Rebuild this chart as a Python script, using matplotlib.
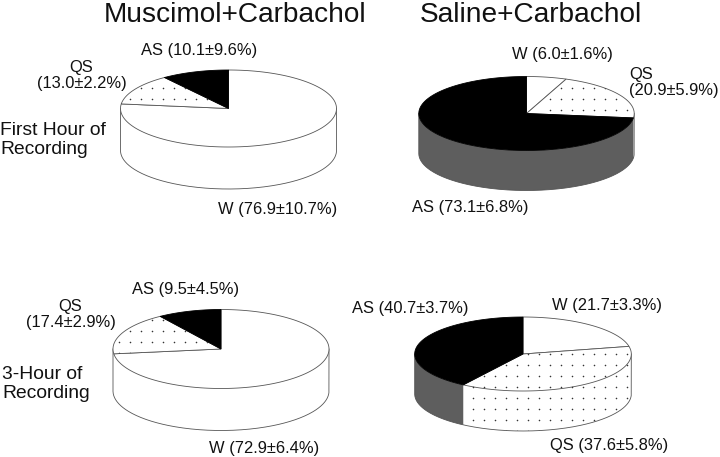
import numpy as np
import matplotlib
matplotlib.use("Agg")
import matplotlib.pyplot as plt

plt.rcParams['font.family'] = ['Liberation Sans', 'DejaVu Sans']

# Data: shares of recording time, clockwise from 12 o'clock (W, QS, AS)
stages = ['W', 'QS', 'AS']
mus_first_values = [76.9, 13.0, 10.1]
sal_first_values = [6.0, 20.9, 73.1]
mus_three_values = [72.9, 17.4, 9.5]
sal_three_values = [21.7, 37.6, 40.7]

titles = ['Muscimol+Carbachol', 'Saline+Carbachol']
row_labels = ['First Hour of\nRecording', '3-Hour of\nRecording']

mus_first_labels = ['W (76.9±10.7%)', 'QS\n(13.0±2.2%)', 'AS (10.1±9.6%)']
sal_first_labels = ['W (6.0±1.6%)', 'QS\n(20.9±5.9%)', 'AS (73.1±6.8%)']
mus_three_labels = ['W (72.9±6.4%)', 'QS\n(17.4±2.9%)', 'AS (9.5±4.5%)']
sal_three_labels = ['W (21.7±3.3%)', 'QS (37.6±5.8%)', 'AS (40.7±3.7%)']

W, H = 720, 457
fig = plt.figure(figsize=(W / 100, H / 100), dpi=100, facecolor='white')
ax = fig.add_axes([0, 0, 1, 1])
ax.set_xlim(0, W)
ax.set_ylim(H, 0)
ax.axis('off')

LINE = '#555555'
LW = 0.6
TEXT = '#111111'
TOP_FILL = {'W': 'white', 'QS': 'white', 'AS': 'black'}
WALL_FILL = {'W': 'white', 'QS': 'white', 'AS': '#5e5e5e'}
GRID = 11.0


def draw_dots(patch, x0, x1, y0, y1, gx, gy):
    xs = np.arange(gx, x1 + GRID, GRID)
    xs = xs[xs >= x0]
    ys = np.arange(gy, y1 + GRID, GRID)
    ys = ys[ys >= y0]
    xx, yy = np.meshgrid(xs, ys)
    dots = ax.scatter(xx.ravel(), yy.ravel(), s=1.3, c='#333333', linewidths=0, zorder=5)
    dots.set_clip_path(patch)


def draw_pie(values, cx, cy, rx, ry, depth, gx, gy):
    ends = np.cumsum(values) / np.sum(values) * 2 * np.pi
    starts = np.concatenate([[0], ends[:-1]])
    # side wall: only the front half of the rim (90deg..270deg clockwise from top)
    wall_a, wall_b = np.pi / 2, 3 * np.pi / 2
    for st, a, b in zip(stages, starts, ends):
        lo, hi = max(a, wall_a), min(b, wall_b)
        if lo >= hi:
            continue
        t = np.linspace(lo, hi, 120)
        x = cx + rx * np.sin(t)
        y = cy - ry * np.cos(t)
        px = np.concatenate([x, x[::-1]])
        py = np.concatenate([y, y[::-1] + depth])
        patch = ax.fill(px, py, facecolor=WALL_FILL[st], edgecolor='none', zorder=2)[0]
        if st == 'QS':
            draw_dots(patch, px.min(), px.max(), py.min(), py.max(), gx, gy)
    # one outline round the wall: down the right side, along the bottom, up the left side
    t = np.linspace(wall_a, wall_b, 240)
    ox = np.concatenate([cx + rx * np.sin(t)[:1], cx + rx * np.sin(t), cx + rx * np.sin(t)[-1:]])
    oy = np.concatenate([[cy], cy - ry * np.cos(t) + depth, [cy]])
    ax.plot(ox, oy, color=LINE, linewidth=LW, zorder=2.5)
    # top face
    for st, a, b in zip(stages, starts, ends):
        t = np.linspace(a, b, 200)
        px = np.concatenate([[cx], cx + rx * np.sin(t)])
        py = np.concatenate([[cy], cy - ry * np.cos(t)])
        patch = ax.fill(px, py, facecolor=TOP_FILL[st], edgecolor=LINE if st != 'AS' else 'black',
                        linewidth=LW, zorder=3)[0]
        if st == 'QS':
            draw_dots(patch, px.min(), px.max(), py.min(), py.max(), gx, gy)


draw_pie(mus_first_values, 228.5, 108.5, 108, 38.5, 42, 130, 88)
draw_pie(sal_first_values, 526.5, 113.5, 107.7, 37, 40, 550, 88)
draw_pie(mus_three_values, 221, 349, 108, 39.5, 42, 119, 320)
draw_pie(sal_three_values, 523, 354, 108.3, 37, 40, 473, 353.5)

FS = 11.9


def label(x, y, s, ha='center'):
    ax.text(x, y, s, fontsize=FS, ha=ha, va='baseline', color=TEXT,
            linespacing=1.08, multialignment=ha, zorder=6)


ax.text(235, 21.7, titles[0], fontsize=20.2, ha='center', va='baseline', color=TEXT)
ax.text(531, 21.7, titles[1], fontsize=20.2, ha='center', va='baseline', color=TEXT)

ax.text(0, 154, row_labels[0], fontsize=13.9, ha='left', va='baseline', color=TEXT, linespacing=1.14)
ax.text(2, 397.5, row_labels[1], fontsize=13.9, ha='left', va='baseline', color=TEXT, linespacing=1.14)

label(277.5, 214, mus_first_labels[0])
label(81.5, 87.7, mus_first_labels[1])
label(199, 55, mus_first_labels[2])

label(562, 59.3, sal_first_labels[0])
label(629.3, 95, sal_first_labels[1], ha='left')
label(470, 211.7, sal_first_labels[2])

label(264, 452.7, mus_three_labels[0])
label(70.5, 326.7, mus_three_labels[1])
label(186, 294, mus_three_labels[2])

label(607, 310, sal_three_labels[0])
label(609, 450, sal_three_labels[1])
label(410, 312.7, sal_three_labels[2])

fig.savefig('out.png', dpi=100, facecolor='white')
